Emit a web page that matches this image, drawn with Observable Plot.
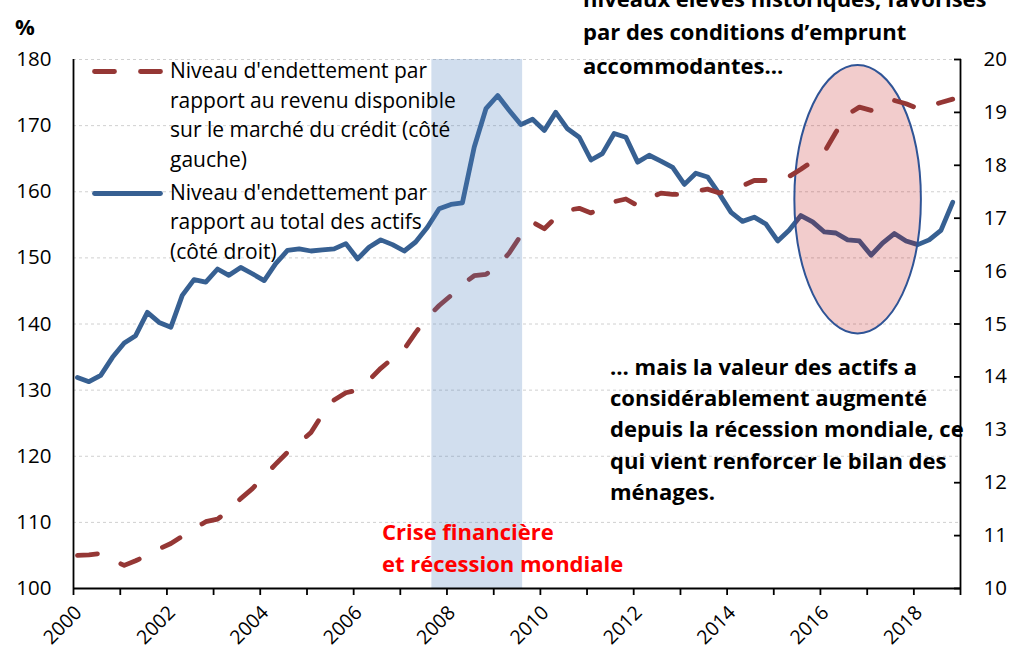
<!DOCTYPE html>
<html><head><meta charset="utf-8">
<script src="https://cdn.jsdelivr.net/npm/d3@7"></script>
<script src="https://cdn.jsdelivr.net/npm/@observablehq/plot@0.6"></script>
<style>
body{margin:0;background:#fff;}
#wrap{position:relative;width:1011px;height:652px;overflow:hidden;font-family:"Open Sans",sans-serif;color:#000;}
#wrap svg{position:absolute;left:0;top:0;}
.note{position:absolute;white-space:nowrap;font-weight:bold;}
.leg{position:absolute;white-space:nowrap;font-size:21px;line-height:29.5px;}
</style></head><body><div id="wrap"></div>
<script>
// Debt-to-disposable-income ratio (left axis, %), quarterly 2000Q1–2018Q4
const debtToIncome = [
  105.0,105.1,105.3,104.3,103.5,104.2,105.0,106.0,106.8,107.9,
  109.0,110.1,110.5,111.8,113.6,115.1,117.0,118.8,120.6,122.0,
  123.6,126.3,128.5,129.6,130.0,131.5,133.3,134.8,136.2,138.7,
  141.0,142.8,144.3,146.0,147.3,147.5,148.8,150.7,153.4,155.4,
  154.4,156.1,157.2,157.5,156.8,157.6,158.5,158.9,157.9,159.0,
  159.8,159.6,159.6,160.1,160.4,159.8,160.3,160.9,161.7,161.7,
  161.7,162.3,163.4,164.6,166.0,169.0,171.7,172.8,172.3,173.5,
  173.8,173.3,172.6,172.9,173.5,174.0
];
// Debt-to-total-assets ratio (right axis, %)
const debtToAssets = [
  13.99,13.91,14.03,14.37,14.64,14.78,15.22,15.03,14.94,15.54,
  15.84,15.79,16.04,15.92,16.07,15.95,15.82,16.14,16.39,16.42,
  16.38,16.40,16.42,16.52,16.23,16.45,16.59,16.50,16.38,16.55,
  16.83,17.18,17.26,17.29,18.34,19.07,19.32,19.04,18.77,18.87,
  18.66,19.00,18.69,18.53,18.10,18.22,18.60,18.53,18.06,18.19,
  18.08,17.96,17.64,17.85,17.78,17.46,17.11,16.94,17.02,16.89,
  16.57,16.77,17.05,16.93,16.74,16.72,16.59,16.57,16.30,16.53,
  16.71,16.57,16.50,16.59,16.77,17.30
];
const leftTicks = [100,110,120,130,140,150,160,170,180];
const rightTicks = [10,11,12,13,14,15,16,17,18,19,20];
const yearLabels = [2000,2002,2004,2006,2008,2010,2012,2014,2016,2018];
const recessionStart = "2007-09-05";
const recessionEnd = "2009-08-15";
const ellipseDates = ["2015-06-15","2018-03-01"];
const ellipseValues = [138.5,179.1];

const seriesNames = [
  "Niveau d'endettement par<br>rapport au revenu disponible<br>sur le marché du crédit (côté<br>gauche)",
  "Niveau d'endettement par<br>rapport au total des actifs<br>(côté droit)"
];

const quarters = d3.utcMonth.range(new Date(Date.UTC(2000,1,1)), new Date(Date.UTC(2019,0,1)), 3);
const toLeft = v => (v - 10) * 8 + 100;
const toRight = v => (v - 100) / 8 + 10;
const rows = quarters.map((d, i) => ({date: d, income: debtToIncome[i], assets: toLeft(debtToAssets[i])}));
const x0 = new Date(Date.UTC(2000,0,1)), x1 = new Date(Date.UTC(2019,0,1));
const yearTicks = d3.utcYear.range(x0, d3.utcYear.offset(x1, 1));

const BLUE = "#376092", RED = "#953735";
const FONT = "'Open Sans', sans-serif";

function ellipse(index, scales) {
  const xa = scales.x(new Date(ellipseDates[0])), xb = scales.x(new Date(ellipseDates[1]));
  const ya = scales.y(ellipseValues[0]), yb = scales.y(ellipseValues[1]);
  return d3.create("svg:ellipse")
    .attr("cx", (xa + xb) / 2).attr("cy", (ya + yb) / 2)
    .attr("rx", Math.abs(xb - xa) / 2).attr("ry", Math.abs(yb - ya) / 2)
    .attr("fill", "#c00000").attr("fill-opacity", 0.2)
    .attr("stroke", "#2f5496").attr("stroke-width", 2).node();
}

const chart = Plot.plot({
  width: 1011, height: 652,
  marginLeft: 73, marginRight: 51, marginTop: 59, marginBottom: 64,
  x: {type: "utc", domain: [x0, x1], label: null},
  y: {domain: [100, 180], label: null},
  style: {fontFamily: FONT, fontSize: "20px", color: "#000", background: "transparent", overflow: "visible"},
  marks: [
    Plot.gridY(leftTicks.filter(v => v > 100), {stroke: "#d0d0d0", strokeOpacity: 1, strokeDasharray: "3,3", strokeWidth: 1}),
    Plot.line(rows, {x: "date", y: "assets", stroke: BLUE, strokeWidth: 4.8, strokeLinejoin: "round", strokeLinecap: "round"}),
    ellipse,
    Plot.line(rows, {x: "date", y: "income", stroke: RED, strokeWidth: 4.8, strokeDasharray: "20,26", strokeLinecap: "round", strokeLinejoin: "round"}),
    Plot.rect([{start: new Date(recessionStart), end: new Date(recessionEnd)}], {x1: "start", x2: "end", y1: 100, y2: 180, fill: "#4f81bd", fillOpacity: 0.26}),
    Plot.ruleY([100], {stroke: "#000", strokeWidth: 1.8}),
    Plot.ruleX([x0, x1], {stroke: "#000", strokeWidth: 1.8}),
    Plot.axisX({ticks: yearTicks, tickSize: 7, tickFormat: () => "", strokeWidth: 1.8}),
    Plot.axisY({anchor: "left", ticks: leftTicks, tickSize: 0, tickPadding: 22, fontSize: 20.5}),
    Plot.axisY({anchor: "right", ticks: rightTicks.map(toLeft), tickSize: 7, dx: -7, strokeWidth: 1.8, tickFormat: () => ""}),
    Plot.axisY({anchor: "right", ticks: rightTicks.map(toLeft), tickSize: 0, tickPadding: 23, fontSize: 20.5, tickFormat: v => String(Math.round(toRight(v)))}),
    Plot.text(yearLabels, {x: d => new Date(Date.UTC(d, 0, 1)), frameAnchor: "bottom", text: d => String(d), rotate: -45, textAnchor: "end", lineAnchor: "middle", dx: 5, dy: 21, fontSize: 19.5})
  ]
});

const wrap = document.getElementById("wrap");
wrap.appendChild(chart);

function addDiv(cls, html, style) {
  const d = document.createElement("div");
  d.className = cls; d.innerHTML = html;
  Object.assign(d.style, style);
  wrap.appendChild(d);
}
// axis unit
addDiv("note", "%", {left: "15px", top: "11px", fontSize: "22px"});
// legend samples
const leg = d3.create("svg").attr("width", 1011).attr("height", 652).style("pointer-events", "none");
leg.append("line").attr("x1", 94.5).attr("x2", 160.5).attr("y1", 71.5).attr("y2", 71.5)
  .attr("stroke", RED).attr("stroke-width", 4.8).attr("stroke-dasharray", "20,26").attr("stroke-linecap", "round");
leg.append("line").attr("x1", 94.5).attr("x2", 160.5).attr("y1", 193.5).attr("y2", 193.5)
  .attr("stroke", BLUE).attr("stroke-width", 4.8).attr("stroke-linecap", "round");
wrap.appendChild(leg.node());
addDiv("leg", seriesNames[0], {left: "170px", top: "56px"});
addDiv("leg", seriesNames[1], {left: "170px", top: "177.5px"});
// annotations
addDiv("note", "niveaux élevés historiques, favorisés<br>par des conditions d’emprunt<br>accommodantes…", {left: "583px", top: "-18px", fontSize: "22px", lineHeight: "33.3px"});
addDiv("note", "… mais la valeur des actifs a<br>considérablement augmenté<br>depuis la récession mondiale, ce<br>qui vient renforcer le bilan des<br>ménages.", {left: "610px", top: "351px", fontSize: "22px", lineHeight: "31.2px"});
addDiv("note", "Crise financière<br>et récession mondiale", {left: "382px", top: "516px", fontSize: "22px", lineHeight: "31.7px", color: "#ff0000"});
</script>
</body></html>
